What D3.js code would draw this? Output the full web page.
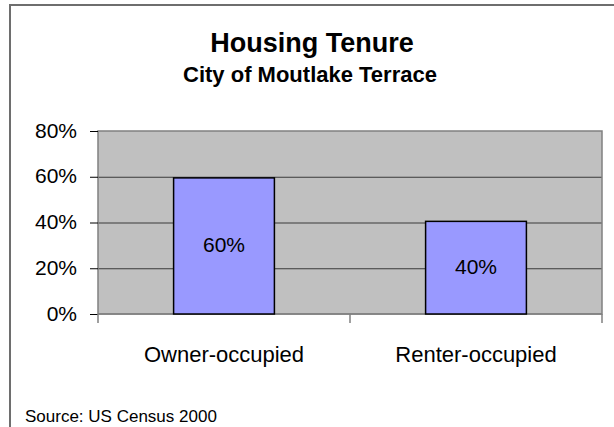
<!DOCTYPE html>
<html>
<head>
<meta charset="utf-8">
<script src="https://cdn.jsdelivr.net/npm/d3@7"></script>
<style>
  body { margin: 0; background: #fff; }
  text { font-family: "Liberation Sans", Arial, sans-serif; fill: #000; }
</style>
</head>
<body>
<div id="container"></div>
<script>
const categories = ["Owner-occupied", "Renter-occupied"]
const shares = [59.5, 40.5]
const barLabels = ["60%", "40%"]
const yTicks = [0, 20, 40, 60, 80]

const width = 614, height = 427
const plot = { left: 98, top: 131, right: 602, bottom: 314 }

const svg = d3.select('#container')
    .append('svg').attr('width', width).attr('height', height)

// outer chart frame (only top and left edges fall inside the picture)
svg.append('rect')
    .attr('x', 10).attr('y', 5)
    .attr('width', 620).attr('height', 440)
    .attr('fill', 'none').attr('stroke', '#6e6e6e').attr('stroke-width', 2)

svg.append('text')
    .attr('x', 312).attr('y', 52)
    .attr('text-anchor', 'middle')
    .style('font-size', '27px').style('font-weight', 'bold')
    .text('Housing Tenure')

svg.append('text')
    .attr('x', 310).attr('y', 82)
    .attr('text-anchor', 'middle')
    .style('font-size', '22px').style('font-weight', 'bold')
    .text('City of Moutlake Terrace')

const xScale = d3.scaleBand()
    .domain(categories)
    .range([plot.left, plot.right])
    .paddingInner(0.6).paddingOuter(0.3)

const yScale = d3.scaleLinear()
    .domain([0, 80])
    .range([plot.bottom, plot.top])

// plot background
svg.append('rect')
    .attr('x', plot.left).attr('y', plot.top)
    .attr('width', plot.right - plot.left).attr('height', plot.bottom - plot.top)
    .attr('fill', '#c0c0c0')

// gridlines
svg.append('g')
    .attr('transform', `translate(${plot.left},0)`)
    .call(d3.axisLeft(yScale).tickValues(yTicks.filter(t => t > 0 && t < 80))
        .tickSize(-(plot.right - plot.left)).tickFormat(''))
    .call(g => g.select('.domain').remove())
    .call(g => g.selectAll('line').attr('stroke', '#3a3a3a'))

// plot border
svg.append('rect')
    .attr('x', plot.left).attr('y', plot.top)
    .attr('width', plot.right - plot.left).attr('height', plot.bottom - plot.top)
    .attr('fill', 'none').attr('stroke', '#808080').attr('stroke-width', 1.5)

// y axis
svg.append('g')
    .attr('transform', `translate(${plot.left},0)`)
    .call(d3.axisLeft(yScale).tickValues(yTicks)
        .tickSize(8).tickPadding(13).tickFormat(d => d + '%'))
    .call(g => g.select('.domain').remove())
    .call(g => g.selectAll('line').attr('stroke', '#000'))
    .call(g => g.selectAll('text')
        .attr('dy', null).attr('y', 6)
        .style('font-size', '21px').style('font-family', '"Liberation Sans", Arial, sans-serif'))

// x axis: ticks on category boundaries
const bounds = d3.range(categories.length + 1).map(i => plot.left + i * xScale.step())
svg.append('g')
    .selectAll('line')
    .data(bounds)
    .enter()
    .append('line')
    .attr('x1', d => d).attr('x2', d => d)
    .attr('y1', plot.bottom).attr('y2', plot.bottom + 9)
    .attr('stroke', '#808080').attr('stroke-width', 1.5)

svg.append('line')
    .attr('x1', plot.left).attr('x2', plot.right)
    .attr('y1', plot.bottom).attr('y2', plot.bottom)
    .attr('stroke', '#808080').attr('stroke-width', 1.5)

svg.append('g')
    .selectAll('text')
    .data(categories)
    .enter()
    .append('text')
    .attr('x', d => xScale(d) + xScale.bandwidth() / 2)
    .attr('y', 362)
    .attr('text-anchor', 'middle')
    .style('font-size', '22px')
    .text(d => d)

// bars
svg.append('g')
    .selectAll('rect')
    .data(shares)
    .enter()
    .append('rect')
    .attr('x', (d, i) => xScale(categories[i]))
    .attr('y', d => yScale(d))
    .attr('width', xScale.bandwidth())
    .attr('height', d => yScale(0) - yScale(d))
    .attr('fill', '#9999ff')
    .attr('stroke', '#000').attr('stroke-width', 1.5)

svg.append('g')
    .selectAll('text')
    .data(shares)
    .enter()
    .append('text')
    .attr('x', (d, i) => xScale(categories[i]) + xScale.bandwidth() / 2)
    .attr('y', d => yScale(d / 2) + 6)
    .attr('text-anchor', 'middle')
    .style('font-size', '21px')
    .text((d, i) => barLabels[i])

svg.append('text')
    .attr('x', 25).attr('y', 422)
    .style('font-size', '17px')
    .text('Source: US Census 2000')
</script>
</body>
</html>
